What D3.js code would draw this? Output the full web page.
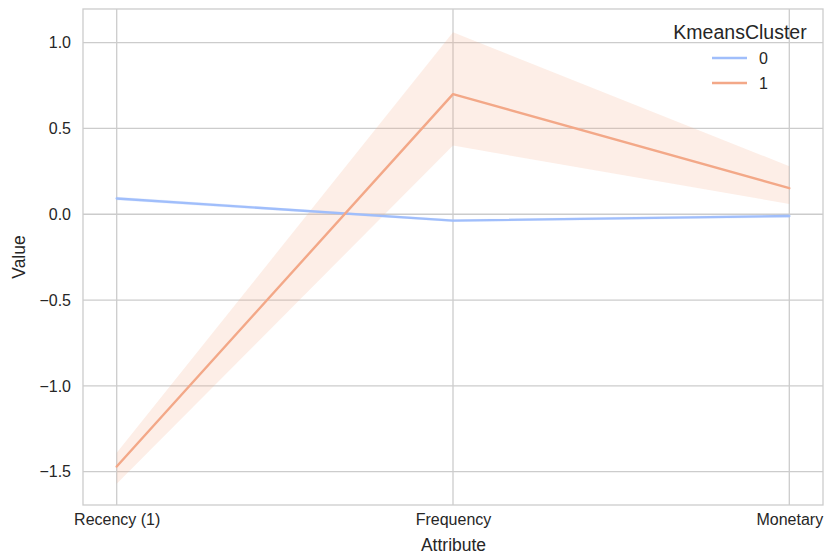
<!DOCTYPE html>
<html>
<head>
<meta charset="utf-8">
<script src="https://cdn.jsdelivr.net/npm/d3@7"></script>
<style>
  html, body { margin: 0; padding: 0; background: #fff; }
  svg { display: block; font-family: "Liberation Sans", Arial, sans-serif; }
</style>
</head>
<body>
<svg id="chart" width="828" height="559"></svg>
<script>
// Attributes on the x axis
const attributes = ["Recency (1)", "Frequency", "Monetary"];
// Cluster ids shown in the legend
const clusters = ["0", "1"];
// Mean value per attribute for each cluster
const meanCluster0 = [0.092, -0.037, -0.01];
const meanCluster1 = [-1.47, 0.70, 0.152];
// Confidence band (lower / upper) per attribute
const lowCluster0 = [0.082, -0.045, -0.02];
const highCluster0 = [0.102, -0.029, 0.0];
const lowCluster1 = [-1.57, 0.40, 0.06];
const highCluster1 = [-1.39, 1.06, 0.28];
// Y tick values
const yTicks = [1.0, 0.5, 0.0, -0.5, -1.0, -1.5];

const colors = ["#a0befb", "#f3a888"];

const series = [
  { name: clusters[0], mean: meanCluster0, low: lowCluster0, high: highCluster0, color: colors[0] },
  { name: clusters[1], mean: meanCluster1, low: lowCluster1, high: highCluster1, color: colors[1] }
];

const svg = d3.select("#chart");
const frame = { left: 83, right: 823, top: 9, bottom: 505 };
const pad = 33.7;

const x = d3.scalePoint()
  .domain(attributes)
  .range([frame.left + pad, frame.right - pad]);

const y = d3.scaleLinear()
  .domain([-1.694, 1.196])
  .range([frame.bottom, frame.top]);

const gridColor = "#cccccc";
const textColor = "#262626";
const fmt = v => d3.format(".1f")(v).replace("-", "\u2212");

// Grid lines
const grid = svg.append("g");
grid.selectAll("line.h").data(yTicks).join("line")
  .attr("x1", frame.left).attr("x2", frame.right)
  .attr("y1", d => y(d)).attr("y2", d => y(d))
  .attr("stroke", gridColor).attr("stroke-width", 1.3);
grid.selectAll("line.v").data(attributes).join("line")
  .attr("x1", d => x(d)).attr("x2", d => x(d))
  .attr("y1", frame.top).attr("y2", frame.bottom)
  .attr("stroke", gridColor).attr("stroke-width", 1.3);

// Frame
svg.append("rect")
  .attr("x", frame.left).attr("y", frame.top)
  .attr("width", frame.right - frame.left).attr("height", frame.bottom - frame.top)
  .attr("fill", "none").attr("stroke", gridColor).attr("stroke-width", 1.3);

// Axes (tick labels only, ticks and domain hidden)
const yAxis = svg.append("g")
  .attr("transform", `translate(${frame.left},0)`)
  .call(d3.axisLeft(y).tickValues(yTicks).tickFormat(fmt).tickSize(0).tickPadding(12));
yAxis.select(".domain").remove();
yAxis.selectAll("text").attr("fill", textColor).style("font-size", "16px")
  .style("font-family", "'Liberation Sans', Arial, sans-serif");

const xAxis = svg.append("g")
  .attr("transform", `translate(0,${frame.bottom})`)
  .call(d3.axisBottom(x).tickSize(0).tickPadding(9));
xAxis.select(".domain").remove();
xAxis.selectAll("text").attr("fill", textColor).style("font-size", "16px")
  .style("font-family", "'Liberation Sans', Arial, sans-serif");

// Axis titles
svg.append("text")
  .attr("x", (frame.left + frame.right) / 2 + 0.5).attr("y", 551)
  .attr("text-anchor", "middle").attr("fill", textColor)
  .style("font-size", "17.5px").text("Attribute");
svg.append("text")
  .attr("transform", `translate(25,${(frame.top + frame.bottom) / 2}) rotate(-90)`)
  .attr("text-anchor", "middle").attr("fill", textColor)
  .style("font-size", "17.5px").text("Value");

// Bands and lines
const area = d3.area()
  .x((d, i) => x(attributes[i]))
  .y0(d => y(d[0])).y1(d => y(d[1]));
const line = d3.line()
  .x((d, i) => x(attributes[i]))
  .y(d => y(d));

const plot = svg.append("g");
series.forEach(s => {
  plot.append("path")
    .datum(s.low.map((v, i) => [v, s.high[i]]))
    .attr("d", area)
    .attr("fill", s.color).attr("fill-opacity", 0.2).attr("stroke", "none");
});
series.forEach(s => {
  plot.append("path")
    .datum(s.mean)
    .attr("d", line)
    .attr("fill", "none").attr("stroke", s.color)
    .attr("stroke-width", 2.4).attr("stroke-linejoin", "round").attr("stroke-linecap", "round");
});

// Legend
const legend = svg.append("g");
legend.append("text")
  .attr("x", 740).attr("y", 39)
  .attr("text-anchor", "middle").attr("fill", textColor)
  .style("font-size", "19.5px").text("KmeansCluster");
series.forEach((s, i) => {
  const ly = 58 + i * 25;
  legend.append("line")
    .attr("x1", 712).attr("x2", 747).attr("y1", ly).attr("y2", ly)
    .attr("stroke", s.color).attr("stroke-width", 2.4);
  legend.append("text")
    .attr("x", 759).attr("y", ly).attr("dy", "0.35em")
    .attr("fill", textColor).style("font-size", "16px").text(s.name);
});
</script>
</body>
</html>
